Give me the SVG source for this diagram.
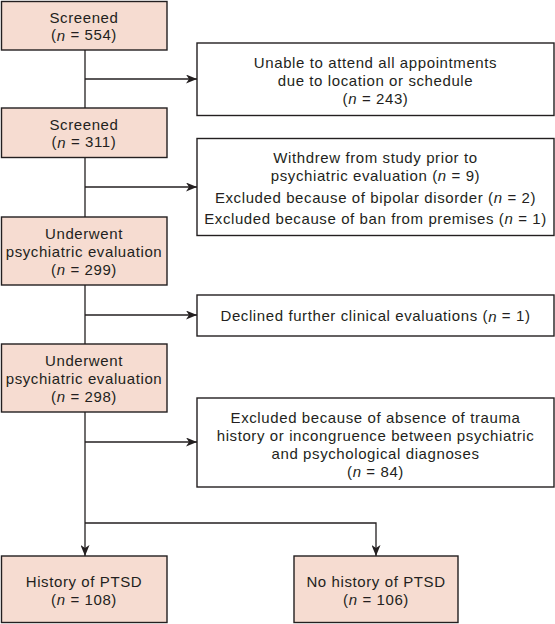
<svg xmlns="http://www.w3.org/2000/svg" width="555" height="624" viewBox="0 0 555 624">
<style>
.main{fill:#f6dcd1;stroke:#231f20;stroke-width:1.4}
.side{fill:#ffffff;stroke:#231f20;stroke-width:1.4}
text{font-family:"Liberation Sans",Arial,sans-serif;font-size:15px;letter-spacing:0.6px;fill:#231f20;text-anchor:middle;dominant-baseline:central}
.i{font-style:italic}
.c{fill:none;stroke:#231f20;stroke-width:1.3}
</style>
<defs>
<marker id="ah" markerUnits="userSpaceOnUse" markerWidth="11" markerHeight="9" refX="11" refY="4.5" orient="auto">
<path d="M0,0 L11,4.5 L0,9 L3,4.5 z" fill="#231f20"/>
</marker>
</defs>
<g id="connectors">
<line class="c" x1="85" y1="50" x2="85" y2="108"/>
<line class="c" x1="85" y1="158" x2="85" y2="217"/>
<line class="c" x1="85" y1="285" x2="85" y2="344"/>
<line class="c" x1="85" y1="412" x2="85" y2="556" marker-end="url(#ah)"/>
<line class="c" x1="85" y1="79" x2="197" y2="79" marker-end="url(#ah)"/>
<line class="c" x1="85" y1="187" x2="197" y2="187" marker-end="url(#ah)"/>
<line class="c" x1="85" y1="315" x2="197" y2="315" marker-end="url(#ah)"/>
<line class="c" x1="85" y1="442" x2="197" y2="442" marker-end="url(#ah)"/>
<path class="c" d="M85,523 H376 V556" marker-end="url(#ah)"/>
</g>
<g id="screened554">
<rect class="main" x="1.5" y="1.5" width="165.5" height="48.5"/>
<text x="84" y="17">Screened</text>
<text x="84" y="34.5">(<tspan class="i">n</tspan> = 554)</text>
</g>
<g id="unable">
<rect class="side" x="197" y="43" width="357" height="72.5"/>
<text x="375.5" y="62">Unable to attend all appointments</text>
<text x="375.5" y="80">due to location or schedule</text>
<text x="375.5" y="98">(<tspan class="i">n</tspan> = 243)</text>
</g>
<g id="screened311">
<rect class="main" x="1.5" y="108" width="165.5" height="49.5"/>
<text x="84" y="124">Screened</text>
<text x="84" y="141.5">(<tspan class="i">n</tspan> = 311)</text>
</g>
<g id="withdrew">
<rect class="side" x="197" y="138.5" width="357" height="97"/>
<text x="375.5" y="157">Withdrew from study prior to</text>
<text x="375.5" y="175">psychiatric evaluation (<tspan class="i">n</tspan> = 9)</text>
<text x="375.5" y="197">Excluded because of bipolar disorder (<tspan class="i">n</tspan> = 2)</text>
<text x="375.5" y="218">Excluded because of ban from premises (<tspan class="i">n</tspan> = 1)</text>
</g>
<g id="underwent299">
<rect class="main" x="1.5" y="217" width="165.5" height="68"/>
<text x="84" y="233">Underwent</text>
<text x="84" y="251">psychiatric evaluation</text>
<text x="84" y="269">(<tspan class="i">n</tspan> = 299)</text>
</g>
<g id="declined">
<rect class="side" x="197" y="295" width="357" height="41"/>
<text x="375.5" y="315.5">Declined further clinical evaluations (<tspan class="i">n</tspan> = 1)</text>
</g>
<g id="underwent298">
<rect class="main" x="1.5" y="344" width="165.5" height="68"/>
<text x="84" y="360">Underwent</text>
<text x="84" y="378">psychiatric evaluation</text>
<text x="84" y="396">(<tspan class="i">n</tspan> = 298)</text>
</g>
<g id="excluded84">
<rect class="side" x="197" y="398" width="357" height="89"/>
<text x="375.5" y="417">Excluded because of absence of trauma</text>
<text x="375.5" y="435">history or incongruence between psychiatric</text>
<text x="375.5" y="453">and psychological diagnoses</text>
<text x="375.5" y="471">(<tspan class="i">n</tspan> = 84)</text>
</g>
<g id="ptsd">
<rect class="main" x="1.5" y="556" width="165.5" height="66.5"/>
<text x="84" y="581">History of PTSD</text>
<text x="84" y="599">(<tspan class="i">n</tspan> = 108)</text>
</g>
<g id="noptsd">
<rect class="main" x="294" y="556" width="164" height="66.5"/>
<text x="376" y="581">No history of PTSD</text>
<text x="376" y="599">(<tspan class="i">n</tspan> = 106)</text>
</g>
</svg>
